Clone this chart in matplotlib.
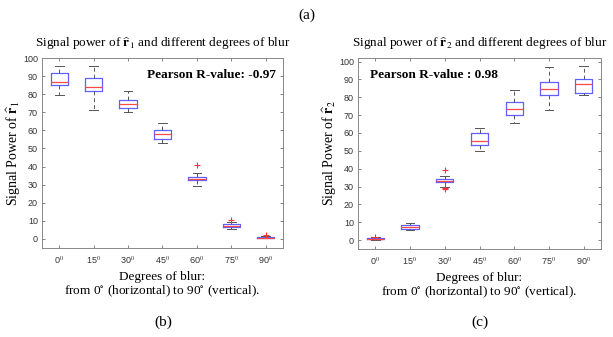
import numpy as np
import matplotlib
matplotlib.use("Agg")
import matplotlib.pyplot as plt

plt.rcParams['mathtext.fontset'] = 'stix'
plt.rcParams['font.family'] = 'Liberation Serif'

# Degrees of blur (x categories)
angles = ["0", "15", "30", "45", "60", "75", "90"]

# signal power of r1: whisker low, q1, median, q3, whisker high
r1_lo = [79.5, 71.5, 70.0, 53.0, 29.0, 5.5, 0.3]
r1_q1 = [85.0, 82.0, 72.5, 55.5, 32.5, 6.5, 0.5]
r1_med = [86.5, 84.0, 74.5, 58.0, 33.0, 7.0, 0.8]
r1_q3 = [91.5, 89.0, 77.0, 60.0, 34.5, 8.0, 1.2]
r1_hi = [95.5, 95.5, 82.0, 64.0, 36.5, 9.5, 1.5]
r1_out = [[], [], [], [], [41.0], [10.5], [2.0]]

# signal power of r2
r2_lo = [0.2, 5.5, 30.0, 50.0, 65.5, 73.0, 81.0]
r2_q1 = [0.5, 6.0, 32.3, 53.0, 70.0, 81.5, 82.5]
r2_med = [0.8, 7.2, 33.0, 55.5, 73.5, 84.5, 87.5]
r2_q3 = [1.2, 8.5, 34.0, 60.0, 77.5, 88.5, 90.0]
r2_hi = [1.5, 9.5, 36.0, 63.0, 84.0, 97.0, 97.5]
r2_out = [[1.8], [], [39.0, 29.0, 28.5], [], [], [], []]

r_values = ["-0.97", "0.98"]


def make_stats(lo, q1, med, q3, hi, out):
    stats = []
    for i in range(len(lo)):
        stats.append(dict(whislo=lo[i], q1=q1[i], med=med[i], q3=q3[i],
                          whishi=hi[i], fliers=out[i]))
    return stats


def draw(ax, stats, ylim, yticks, idx):
    ax.bxp(stats, positions=np.arange(1, len(stats) + 1), widths=0.5,
           boxprops=dict(color='#6060ff', linewidth=0.9),
           medianprops=dict(color='#ff4848', linewidth=0.9),
           whiskerprops=dict(color='#555555', linewidth=0.7, linestyle=(0, (4, 3))),
           capprops=dict(color='#555555', linewidth=0.7),
           flierprops=dict(marker='+', markeredgecolor='#ff3030', markersize=5,
                           markeredgewidth=0.8))
    ax.set_xlim(0.5, 7.5)
    ax.set_ylim(*ylim)
    ax.set_yticks(yticks)
    ax.set_xticks(np.arange(1, len(angles) + 1))
    ax.set_xticklabels([a + "$^{\\mathrm{0}}$" for a in angles])
    for lab in ax.get_xticklabels() + ax.get_yticklabels():
        lab.set_family('Liberation Sans')
        lab.set_fontsize(6.5)
        lab.set_color('#333333')
    ax.tick_params(axis='y', pad=3)
    ax.tick_params(axis='x', pad=5)
    ax.tick_params(direction='in', length=2.5, width=0.5, color='#555555',
                   top=True, right=True)
    for s in ax.spines.values():
        s.set_color('#888888')
        s.set_linewidth(0.7)
    ax.set_title("Signal power of $\\widehat{\\mathbf{r}}_%d$ and different degrees of blur" % idx,
                 fontsize=9.5, pad=8)
    ax.set_ylabel("Signal Power of $\\widehat{\\mathbf{r}}_%d$" % idx, fontsize=10, labelpad=0)
    ax.set_xlabel("Degrees of blur:\nfrom 0$^{\\circ}$ (horizontal) to 90$^{\\circ}$ (vertical).",
                  fontsize=9.5, labelpad=3, linespacing=1.1)


fig = plt.figure(figsize=(6.13, 3.37), dpi=100)
ax1 = fig.add_axes([42 / 613, 1 - 248 / 337, 241 / 613, 190 / 337])
ax2 = fig.add_axes([358 / 613, 1 - 249 / 337, 243 / 613, 191 / 337])

draw(ax1, make_stats(r1_lo, r1_q1, r1_med, r1_q3, r1_hi, r1_out), (-5, 100),
     np.arange(0, 101, 10), 1)
draw(ax2, make_stats(r2_lo, r2_q1, r2_med, r2_q3, r2_hi, r2_out), (-5, 102),
     np.arange(0, 101, 10), 2)

ax1.text(0.97, 0.91, "Pearson R-value: " + r_values[0], transform=ax1.transAxes,
         ha='right', va='center', fontsize=9.5, fontweight='bold')
ax2.text(0.05, 0.91, "Pearson R-value : " + r_values[1], transform=ax2.transAxes,
         ha='left', va='center', fontsize=9.5, fontweight='bold')

fig.text(0.5, 1 - 15 / 337, "(a)", ha='center', va='center', fontsize=11)
fig.text(163 / 613, 1 - 322 / 337, "(b)", ha='center', va='center', fontsize=11)
fig.text(480 / 613, 1 - 322 / 337, "(c)", ha='center', va='center', fontsize=11)

fig.savefig("out.png", dpi=100)
